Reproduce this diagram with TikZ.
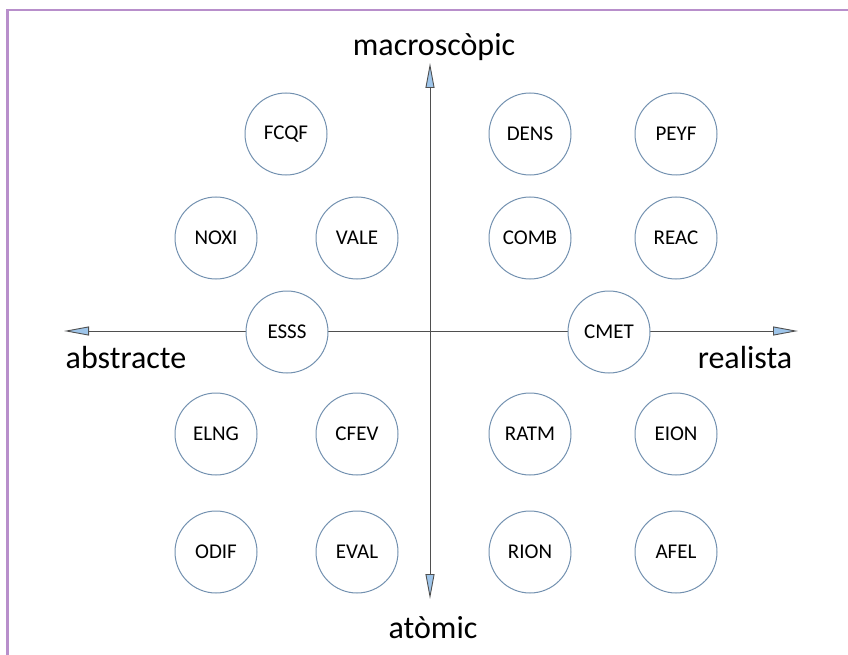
\documentclass[tikz,border=0pt]{standalone}
\usepackage{fontspec}
\setmainfont{Carlito}
\usepackage{tikz}
\usetikzlibrary{arrows.meta, calc, positioning}

\definecolor{framelila}{HTML}{B88FCB}
\definecolor{cercle}{HTML}{7391B0}
\definecolor{puntablau}{HTML}{9EC5EA}
\definecolor{eix}{HTML}{4F4F4F}

\tikzset{
	competencia/.style={circle, draw=cercle, fill=white, line width=1pt, minimum size=82pt, inner sep=0pt, font=\fontsize{21}{21}\selectfont},
	eixlabel/.style={font=\fontsize{32}{32}\selectfont, inner sep=0pt},
	eixfletxa/.style={draw=eix, line width=0.9pt, -{Triangle[length=25pt,width=9pt,fill=puntablau]}}
}

\begin{document}
\begin{tikzpicture}[x=1pt,y=-1pt]
    							\useasboundingbox (0,0) rectangle (848,655);
    							\draw[framelila, line width=2.5pt] (7.5,655) -- (7.5,10) -- (848,10);

    							\coordinate (origo) at (430,331);
    							\coordinate (dalt) at (430,63);
    							\coordinate (baix) at (430,599);
    							\coordinate (esq) at (64,331);
    							\coordinate (dreta) at (798,331);

							    \draw[eixfletxa] (origo) -- (dalt);
							    \draw[eixfletxa] (origo) -- (baix);
							    \draw[eixfletxa] (origo) -- (esq);
							    \draw[eixfletxa] (origo) -- (dreta);

							    \node[eixlabel] (macro) at (434,47) {macroscòpic};
							    \node[eixlabel] (atom) at (433,628) {atòmic};
							    \node[eixlabel] (abstr) at (126,358) {abstracte};
							    \node[eixlabel] (real) at (745,358) {realista};

								% fila 1
								\node[competencia] (FCQF) at (286,134) {FCQF};
								\node[competencia] (DENS) at (530,134) {DENS};
								\node[competencia] (PEYF) at (676,134) {PEYF};
								% fila 2
								\node[competencia] (NOXI) at (216,238) {NOXI};
								\node[competencia] (VALE) at (357,238) {VALE};
								\node[competencia] (COMB) at (530,238) {COMB};
								\node[competencia] (REAC) at (676,238) {REAC};
								% fila 3
								\node[competencia] (ESSS) at (287,332) {ESSS};
								\node[competencia] (CMET) at (609,332) {CMET};
								% fila 4
								\node[competencia] (ELNG) at (216,434) {ELNG};
								\node[competencia] (CFEV) at (357,434) {CFEV};
								\node[competencia] (RATM) at (530,434) {RATM};
								\node[competencia] (EION) at (676,434) {EION};
								% fila 5
								\node[competencia] (ODIF) at (216,552) {ODIF};
								\node[competencia] (EVAL) at (357,552) {EVAL};
								\node[competencia] (RION) at (530,552) {RION};
								\node[competencia] (AFEL) at (676,552) {AFEL};
						  \end{tikzpicture}
\end{document}
